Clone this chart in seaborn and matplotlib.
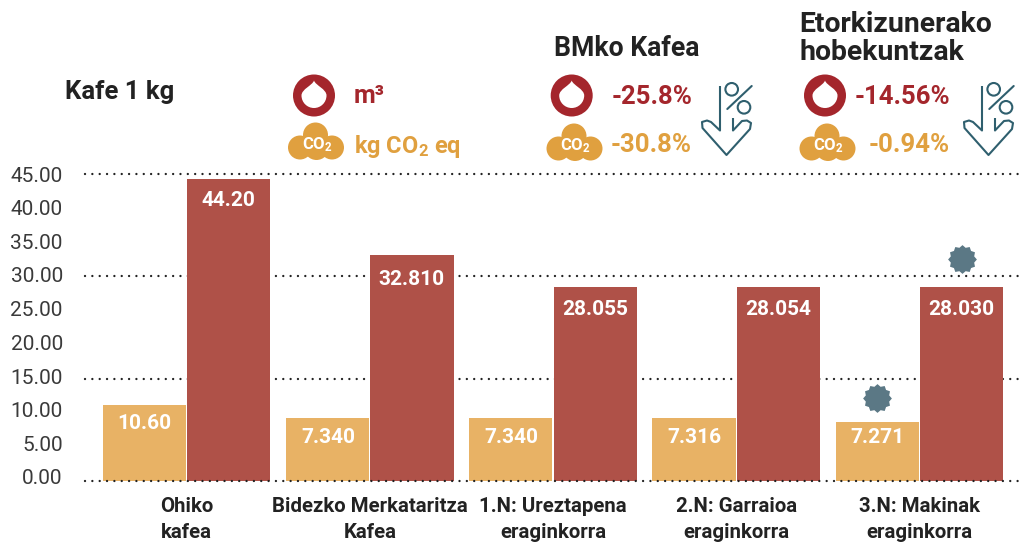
import numpy as np
import pandas as pd
import matplotlib
matplotlib.use("Agg")
import matplotlib.pyplot as plt
from matplotlib.path import Path
from matplotlib.patches import Circle, PathPatch
from matplotlib.transforms import ScaledTranslation
import seaborn as sns

categories = ["Ohiko\nkafea", "Bidezko Merkataritza\nKafea", "1.N: Ureztapena\neraginkorra",
              "2.N: Garraioa\neraginkorra", "3.N: Makinak\neraginkorra"]
water_heights = [44.2, 33.1, 28.4, 28.4, 28.4]
co2_heights = [11.2, 9.2, 9.2, 9.2, 8.6]
water_labels = ["44.20", "32.810", "28.055", "28.054", "28.030"]
co2_labels = ["10.60", "7.340", "7.340", "7.316", "7.271"]
water_label_y = [41.1, 29.5, 25.2, 25.2, 25.2]
co2_label_y = [8.4, 6.4, 6.4, 6.4, 6.4]
star_x = [3.77, 4.23]
star_y = [12.1, 32.6]
y_ticks = [0, 5, 10, 15, 20, 25, 30, 35, 40, 45]
grid_levels = [15, 30, 45]

ORANGE, RED = "#E8B265", "#AF5148"
ICON_RED, ICON_OR = "#A4262C", "#E0A03F"
TEAL, STAR, INK = "#2F5F6E", "#5B7885", "#222222"

sns.set_theme(style="white")
plt.rcParams["font.family"] = ["Roboto", "DejaVu Sans"]
plt.rcParams["mathtext.fontset"] = "custom"
plt.rcParams["mathtext.rm"] = "Roboto:bold"
plt.rcParams["mathtext.default"] = "rm"

W, H = 1021, 545
fig = plt.figure(figsize=(W / 100, H / 100), dpi=100, facecolor="white")
ax = fig.add_axes([85 / W, 1 - 481 / H, (W - 85) / W, 307 / H])

df = pd.DataFrame({
    "cat": categories * 2,
    "value": co2_heights + water_heights,
    "kind": ["co2"] * 5 + ["water"] * 5,
})
sns.barplot(data=df, x="cat", y="value", hue="kind", palette={"co2": ORANGE, "water": RED},
            width=0.92, gap=0.012, legend=False, ax=ax, zorder=3, saturation=1, linewidth=0)
ax.set_xlim(-0.554, 4.554)
ax.set_ylim(0, 45)
dots = (0, (0.01, 3.1))
ax.hlines(grid_levels, -0.554, 4.554, colors="#222222", lw=1.7, linestyles=dots, zorder=1,
          clip_on=False, capstyle="round")
ax.hlines([0], -0.554, 4.554, colors="#222222", lw=1.7, linestyles=dots, zorder=4,
          clip_on=False, capstyle="round")
for s in ax.spines.values():
    s.set_visible(False)
ax.set_xlabel("")
ax.set_ylabel("")
ax.set_yticks(y_ticks)
ax.set_yticklabels([f"{v:.2f}" for v in y_ticks], fontsize=15, color="#3a3a3a")
ax.tick_params(axis="y", length=0, pad=16)
ax.tick_params(axis="x", length=0, pad=11.5)
for v, lab in zip(y_ticks, ax.get_yticklabels()):
    # the reference's tick labels sit slightly tighter than its gridlines
    shift = ScaledTranslation(0, (45 - v) / 45 * 4 / 100, fig.dpi_scale_trans)
    lab.set_transform(lab.get_transform() + shift)
ax.set_xticks(range(5))
ax.set_xticklabels(categories, fontsize=14.7, fontweight="bold", color=INK, linespacing=1.45)

for i in range(5):
    ax.text(i - 0.228, co2_label_y[i], co2_labels[i], color="white", ha="center", va="center",
            fontsize=15, fontweight="bold", zorder=5)
    ax.text(i + 0.228, water_label_y[i], water_labels[i], color="white", ha="center", va="center",
            fontsize=15, fontweight="bold", zorder=5)

star_marker = Path.unit_regular_star(12, innerCircle=0.84)
ax.scatter(star_x, star_y, marker=star_marker, s=430, color=STAR, linewidths=0, zorder=6,
           clip_on=False)

# overlay in pixel space for the header pictograms and texts
ov = fig.add_axes([0, 0, 1, 1], facecolor="none")
ov.set_xlim(0, W)
ov.set_ylim(H, 0)
ov.axis("off")


def drop_icon(cx, cy):
    ov.add_patch(Circle((cx, cy), 21, fc=ICON_RED, ec="none"))
    r, top = 12.5, cy - 15
    k = 0.5523 * r
    verts = [(cx, top), (cx + 1.5, top + 5), (cx + r, cy - 6.5), (cx + r, cy),
             (cx + r, cy + k), (cx + k, cy + r), (cx, cy + r),
             (cx - k, cy + r), (cx - r, cy + k), (cx - r, cy),
             (cx - r, cy - 6.5), (cx - 1.5, top + 5), (cx, top), (cx, top)]
    codes = [Path.MOVETO] + [Path.CURVE4] * 12 + [Path.CLOSEPOLY]
    ov.add_patch(PathPatch(Path(verts, codes), fc="white", ec="none"))


def cloud_icon(cx, cy):
    for dx, dy, r in [(0, -12.5, 12.5), (-15.5, 0, 12), (16.5, 0, 12), (1, 0, 12.5)]:
        ov.add_patch(Circle((cx + dx, cy + dy), r, fc=ICON_OR, ec="none"))
    ov.text(cx + 1.5, cy - 3, "CO$_{2}$", color="white", fontsize=12, fontweight="bold",
            ha="center", va="center")


def arrow_icon(dx):
    xs = np.array([720, 720, 711, 707, 702, 702.5, 726.5, 750, 751, 747, 742, 733, 733]) + dx
    ys = np.array([86, 130.5, 122, 120.5, 122, 128, 155, 129, 123, 120.5, 121, 130.5, 118])
    ov.plot(xs, ys, color=TEAL, lw=1.5, solid_joinstyle="round", solid_capstyle="butt")
    ov.add_patch(Circle((731.7 + dx, 89.3), 6.3, fc="none", ec=TEAL, lw=1.5))
    ov.add_patch(Circle((744 + dx, 107.3), 6.3, fc="none", ec=TEAL, lw=1.5))
    ov.plot(np.array([751.7, 727.3]) + dx, [86, 109], color=TEAL, lw=1.5)


for x in (314, 571.7, 825):
    drop_icon(x, 95.5)
for x in (315.5, 574, 827):
    cloud_icon(x, 147.5 if x == 315.5 else 148.5)
arrow_icon(0)
arrow_icon(262)


def head(x, y, s, size):
    ov.text(x, y, s, color=INK, fontsize=size, fontweight="bold", va="center", ha="left")


head(65, 92, "Kafe 1 kg", 18.5)
head(554, 48, "BMko Kafea", 19.2)
head(799, 24.5, "Etorkizunerako", 20.4)
head(799, 52, "hobekuntzak", 20.4)

ov.text(354, 96, "m³", color=ICON_RED, fontsize=18, fontweight="bold", va="center")
ov.text(354, 146, "kg CO$_{2}$ eq", color=ICON_OR, fontsize=17, fontweight="bold", va="center")
for x, y, s, c in [(692, 97, "-25.8%", ICON_RED), (692, 145, "-30.8%", ICON_OR),
                   (950, 97, "-14.56%", ICON_RED), (950, 145, "-0.94%", ICON_OR)]:
    ov.text(x, y, s, color=c, fontsize=18.5, fontweight="bold", va="center", ha="right")

fig.savefig("out.png", dpi=100, facecolor="white")
